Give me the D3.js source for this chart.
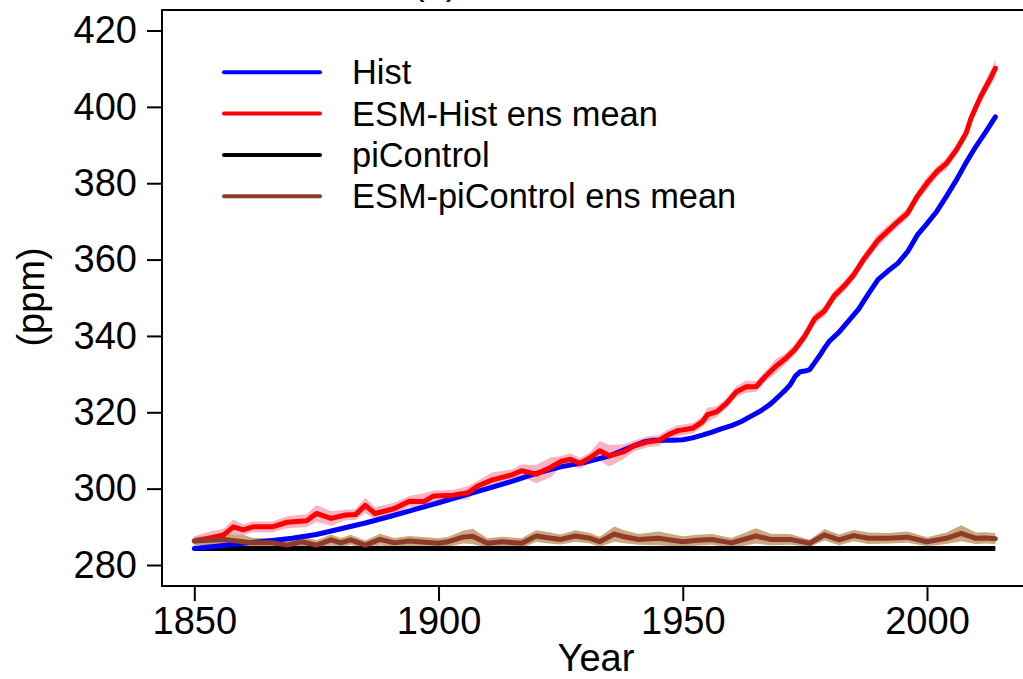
<!DOCTYPE html>
<html><head><meta charset="utf-8">
<script src="https://cdn.jsdelivr.net/npm/d3@7"></script>
<style>body{margin:0;background:#fff}text{font-family:"Liberation Sans",Arial,Helvetica,sans-serif}</style>
</head><body>
<svg id="c" width="1023" height="679"></svg>
<script>
const yTicks = [280,300,320,340,360,380,400,420];
const xTicks = [1850,1900,1950,2000];
const seriesNames = ["Hist","ESM-Hist ens mean","piControl","ESM-piControl ens mean"];

const blueYears = [1850,1855,1860,1865,1870,1875,1880,1885,1890,1895,1900,1905,1910,1915,1920,1925,1930,1935,1940,1942,1944,1946,1948,1950,1952,1954,1956,1958,1960,1962,1964,1966,1968,1970,1971,1972,1973,1974,1975,1976,1977,1978,1979,1980,1982,1984,1986,1988,1990,1992,1994,1996,1998,2000,2002,2004,2006,2008,2010,2012,2014];
const blueVals = [284.3,285.0,285.7,286.3,287.0,288.0,289.5,291.0,292.7,294.5,296.3,298.2,300.0,301.9,304.0,305.7,306.9,308.6,311.2,312.2,312.7,312.7,312.7,312.8,313.3,314.0,314.8,315.7,316.5,317.6,319.0,320.4,322.2,324.6,325.8,327.2,329.4,330.6,330.8,331.2,333.0,334.8,336.8,338.6,341.0,344.0,347.0,351.0,354.8,357.0,359.0,362.0,366.4,369.4,372.6,376.6,380.8,385.4,389.6,393.4,397.4];

const redYears = [1850,1853,1856,1858,1860,1862,1866,1869,1873,1875,1878,1881,1883,1885,1887,1891,1894,1897,1899,1903,1906,1908,1911,1915,1917,1920,1923,1925,1927,1929,1931,1933,1935,1938,1940,1943,1945,1947,1949,1952,1954,1955,1957,1959,1961,1963,1965,1967,1969,1971,1973,1975,1977,1979,1981,1983,1985,1987,1990,1994,1996,1998,2000,2002,2004,2006,2008,2009,2011,2013,2014];
const redVals = [286.3,287.0,287.9,290.0,289.2,290.0,290.0,291.2,291.6,293.5,292.2,293.1,293.2,295.6,293.5,294.8,296.7,296.6,298.1,298.3,298.9,300.7,302.3,303.6,304.7,303.8,305.6,307.1,307.7,306.6,308.1,309.9,308.6,309.7,311.2,312.3,312.6,314.1,315.2,315.8,317.5,319.3,320.2,322.4,325.4,326.7,326.7,329.5,332.0,334.0,336.5,340.0,344.5,346.5,350.5,353.0,356.0,360.0,365.1,369.9,372.1,376.5,380.0,383.0,385.2,388.7,393.1,397.0,402.7,407.5,410.1];
const redSpread = [1.2,1.7,1.6,1.9,1.4,1.4,1.4,1.6,1.7,2.2,1.9,1.4,1.4,2.0,1.6,1.6,1.4,2.2,1.4,1.4,1.7,1.4,1.9,1.4,1.6,2.4,2.6,1.4,1.6,1.4,1.4,2.6,2.8,1.9,1.4,1.4,1.4,1.4,1.4,1.4,1.4,1.9,1.4,1.4,1.4,1.6,1.4,1.4,1.9,1.4,1.4,1.4,1.4,1.4,1.4,1.4,1.4,1.4,1.6,1.4,1.4,1.4,1.7,1.4,1.4,1.4,1.4,1.6,1.6,1.9,2.4];

const blackYears = [1850,2014];
const blackVals = [284.3,284.3];

const brownYears = [1850,1853,1856,1860,1862,1866,1869,1872,1875,1878,1880,1882,1885,1888,1891,1894,1896,1900,1902,1905,1907,1910,1913,1917,1920,1922,1925,1928,1931,1933,1936,1938,1941,1945,1950,1953,1956,1960,1965,1968,1972,1976,1979,1982,1985,1988,1992,1996,2000,2004,2007,2010,2012,2014];
const brownVals = [286.3,286.5,286.7,286.1,285.8,285.8,285.2,286.1,285.2,286.6,285.8,286.6,285.2,286.7,285.8,286.3,286.1,285.7,286.1,287.3,287.5,285.7,286.1,285.7,287.6,287.2,286.7,287.6,287.0,286.1,288.1,287.4,286.7,287.0,286.1,286.5,286.7,285.8,287.6,286.7,286.7,285.7,287.9,286.6,287.7,287.0,287.0,287.3,286.1,287.0,288.3,287.0,287.1,286.9];
const brownSpread = [1.0,1.3,1.5,1.8,1.3,1.3,1.2,1.4,1.3,1.4,1.3,1.3,1.2,1.5,1.3,1.3,1.3,1.3,1.3,1.7,2.0,1.3,1.3,1.3,1.5,1.5,1.3,1.5,1.4,1.3,2.0,1.7,1.4,1.8,1.4,1.4,1.4,1.3,2.0,1.5,1.4,0.9,1.5,1.4,1.5,1.5,1.4,1.5,1.2,1.5,2.1,1.5,1.5,1.4];

const svg = d3.select("#c");
const x = d3.scaleLinear().domain([1850,2000]).range([194.3,927]);
const y = d3.scaleLinear().domain([280,420]).range([565,30.5]);

const FS = 38;

function pts(ys, vs){ return ys.map((yr,i)=>({x:yr, v:vs[i]})); }
function band(ys, vs, sp){ return ys.map((yr,i)=>({x:yr, lo:vs[i]-sp[i], hi:vs[i]+sp[i]})); }

const area = d3.area().x(d=>x(d.x)).y0(d=>y(d.lo)).y1(d=>y(d.hi)).curve(d3.curveLinear);
const line = d3.line().x(d=>x(d.x)).y(d=>y(d.v)).curve(d3.curveLinear);

// bands
svg.append("path").datum(band(redYears,redVals,redSpread)).attr("d",area).attr("fill","#f8b4c2");
svg.append("path").datum(band(brownYears,brownVals,brownSpread)).attr("d",area).attr("fill","#c69f6f").attr("opacity",0.9);

// lines
const lw = 5;
svg.append("path").datum(pts(blackYears,blackVals)).attr("d",line).attr("fill","none").attr("stroke","#000").attr("stroke-width",lw);
svg.append("path").datum(pts(blueYears,blueVals)).attr("d",line).attr("fill","none").attr("stroke","#0000ff").attr("stroke-width",lw).attr("stroke-linejoin","round").attr("stroke-linecap","round");
svg.append("path").datum(pts(redYears,redVals)).attr("d",line).attr("fill","none").attr("stroke","#ff0000").attr("stroke-width",lw).attr("stroke-linejoin","round").attr("stroke-linecap","round");
svg.append("path").datum(pts(brownYears,brownVals)).attr("d",line).attr("fill","none").attr("stroke","#8e3b2c").attr("stroke-width",lw).attr("stroke-linejoin","round").attr("stroke-linecap","round");

// frame
svg.append("path").attr("d","M1030,10H162V586H1030").attr("fill","none").attr("stroke","#000").attr("stroke-width",2);

// axes
const ya = svg.append("g").attr("transform","translate(162,0)")
  .call(d3.axisLeft(y).tickValues(yTicks).tickSize(15).tickPadding(10).tickFormat(d3.format("d")));
const xa = svg.append("g").attr("transform","translate(0,586)")
  .call(d3.axisBottom(x).tickValues(xTicks).tickSize(15).tickPadding(6).tickFormat(d3.format("d")));
[ya,xa].forEach(g=>{
  g.select(".domain").remove();
  g.selectAll(".tick line").attr("stroke","#000").attr("stroke-width",2);
  g.selectAll(".tick text").attr("font-size",FS).attr("fill","#000").style("font-family",'"Liberation Sans",Arial,sans-serif');
});

// axis titles
svg.append("text").attr("x",596).attr("y",671).attr("text-anchor","middle").attr("font-size",FS).text("Year");
svg.append("text").attr("transform","translate(44,297) rotate(-90)").attr("text-anchor","middle").attr("font-size",FS).text("(ppm)");
svg.append("text").attr("x",412).attr("y",-6).attr("font-size",FS).text("(a)");

// legend
const legColors = ["#0000ff","#ff0000","#000000","#8e3b2c"];
const legY = [72.3,113.5,155,196.3];
seriesNames.forEach((n,i)=>{
  svg.append("line").attr("x1",224).attr("x2",320).attr("y1",legY[i]).attr("y2",legY[i])
    .attr("stroke",legColors[i]).attr("stroke-width",4).attr("stroke-linecap","round");
  svg.append("text").attr("x",352).attr("y",legY[i]).attr("dy","0.35em").attr("font-size",34.4).text(n);
});
</script>
</body></html>
